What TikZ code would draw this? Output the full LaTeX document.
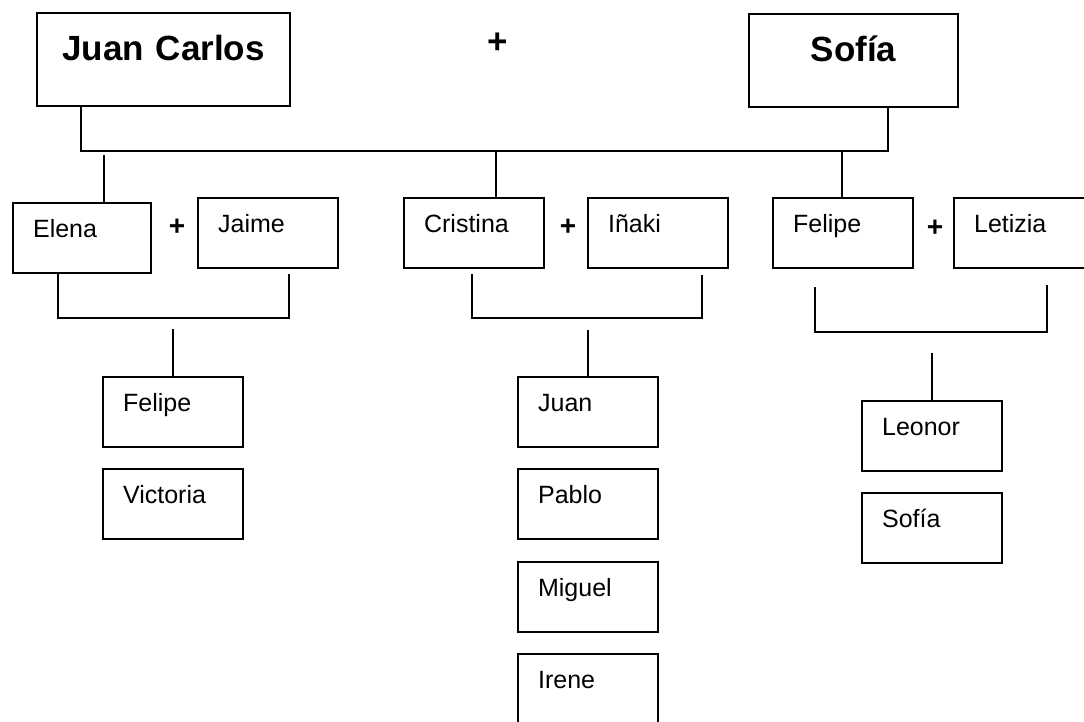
\documentclass[tikz,border=0pt]{standalone}
\usepackage{fontspec}
\setmainfont{Liberation Sans}
\usetikzlibrary{calc}
\tikzset{
	parent/.style = {draw, line width = 2.2pt, anchor = north west, align = center, inner xsep = 20pt, inner ysep = 21pt, text height = 26pt, text depth = 25pt, font = \fontsize{35}{42}\selectfont\bfseries},
	kid/.style = {draw, line width = 2.2pt, anchor = north west, align = left, text width = 100pt, inner xsep = 20pt, inner ysep = 16pt, text height = 18pt, text depth = 20pt, font = \fontsize{25}{30}\selectfont},
	plus/.style = {inner sep = 0pt, font = \fontsize{28}{30}\selectfont\bfseries},
	link/.style = {line width = 2pt}
}
\begin{document}
\begin{tikzpicture}[x = 1pt, y = -1pt]
	\useasboundingbox (0,0) rectangle (1084,721);
	
	\node[parent, text width = 213pt] (jc) at (36,12) {Juan Carlos};
	\node[parent, text width = 169pt] (sofia) at (748,13) {Sofía};
	\node[plus, font = \fontsize{35}{40}\selectfont\bfseries] (p0) at (498,43) {+};
	
	\node[kid, text width = 98pt] (elena) at (12,202) {Elena};
	\node[kid] (jaime) at (197,197) {Jaime};
	\node[kid] (cristina) at (403,197) {Cristina};
	\node[kid] (inaki) at (587,197) {Iñaki};
	\node[kid] (felipe) at (772,197) {Felipe};
	\node[kid] (letizia) at (953,197) {Letizia};
	\node[plus] (p1) at (177,227) {+};
	\node[plus] (p2) at (568,227) {+};
	\node[plus] (p3) at (935,228) {+};
	
	\node[kid] (felipe2) at (102,376) {Felipe};
	\node[kid] (victoria) at (102,468) {Victoria};
	\node[kid] (juan) at (517,376) {Juan};
	\node[kid] (pablo) at (517,468) {Pablo};
	\node[kid] (miguel) at (517,561) {Miguel};
	\node[kid] (irene) at (517,653) {Irene};
	\node[kid] (leonor) at (861,400) {Leonor};
	\node[kid] (sofia2) at (861,492) {Sofía};
	
	% parents to their children
	\coordinate (jcd) at (81,151);
	\coordinate (sod) at (888,151);
	\draw[link] (jc.south -| jcd) -- (jcd) -- (sod) -- (sofia.south -| sod);
	\coordinate (eld) at (104,151);
	\coordinate (crd) at (496,151);
	\coordinate (fed) at (842,151);
	\draw[link] (eld) ++(0,4) -- (eld |- elena.north);
	\draw[link] (crd) -- (crd |- cristina.north);
	\draw[link] (fed) -- (fed |- felipe.north);
	
	% couples
	\coordinate (ej1) at (58,318);
	\coordinate (ej2) at (289,318);
	\draw[link] (elena.south -| ej1) -- (ej1) -- (ej2) -- ($(jaime.south -| ej2)+(0,5)$);
	\coordinate (ci1) at (472,318);
	\coordinate (ci2) at (702,318);
	\draw[link] ($(cristina.south -| ci1)+(0,5)$) -- (ci1) -- (ci2) -- ($(inaki.south -| ci2)+(0,6)$);
	\coordinate (fl1) at (815,332);
	\coordinate (fl2) at (1047,332);
	\draw[link] ($(felipe.south -| fl1)+(0,18)$) -- (fl1) -- (fl2) -- ($(letizia.south -| fl2)+(0,16)$);
	
	\draw[link] (felipe2.north) -- ++(0,-47);
	\draw[link] (juan.north) -- ++(0,-46);
	\draw[link] (leonor.north) -- ++(0,-47);
\end{tikzpicture}
\end{document}
